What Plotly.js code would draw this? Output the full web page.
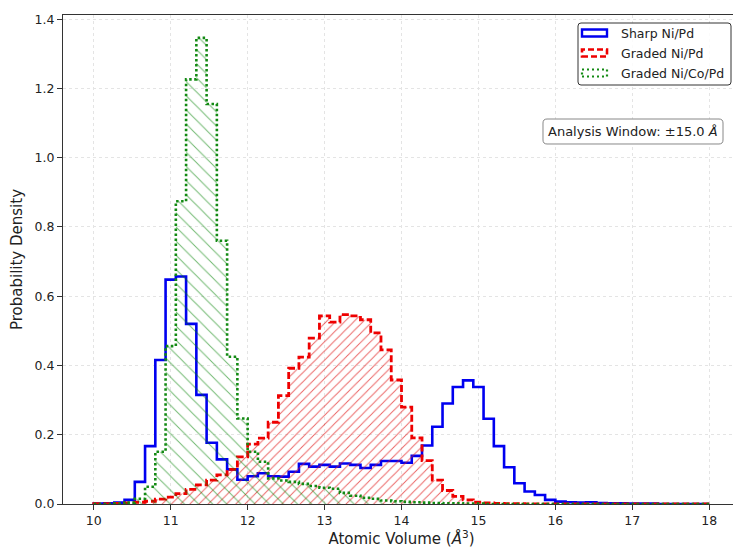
<!DOCTYPE html>
<html>
<head>
<meta charset="utf-8">
<script src="https://cdn.plot.ly/plotly-3.0.1.min.js"></script>
<style>
html,body{margin:0;padding:0;overflow:hidden;background:#fff;}
#chart{width:750px;height:550px;}
</style>
</head>
<body>
<div id="chart"></div>
<script>
// Histogram bins: 60 bins from 10 to 18
const binStart = 10;
const binEnd = 18;
const nBins = 60;

const sharpNiPd = [0.001,0.002,0.004,0.012,0.064,0.167,0.416,0.648,0.657,0.520,
  0.315,0.177,0.129,0.100,0.070,0.080,0.089,0.080,0.079,0.093,
  0.116,0.108,0.113,0.108,0.117,0.113,0.104,0.113,0.124,0.124,
  0.119,0.139,0.169,0.223,0.290,0.338,0.357,0.338,0.246,0.167,
  0.106,0.060,0.036,0.026,0.012,0.007,0.005,0.004,0.005,0.003,
  0.002,0.002,0.001,0.001,0.001,0,0,0,0,0];

const gradedNiPd = [0.001,0.001,0.002,0.003,0.005,0.008,0.014,0.020,0.030,0.042,
  0.055,0.069,0.084,0.100,0.136,0.173,0.190,0.236,0.313,0.392,
  0.424,0.479,0.543,0.525,0.547,0.543,0.532,0.494,0.445,0.358,
  0.280,0.191,0.125,0.069,0.039,0.022,0.012,0.005,0.003,0.002,
  0.001,0.001,0,0,0,0,0,0,0,0,
  0,0,0,0,0,0,0,0,0,0];

const gradedNiCoPd = [0,0,0.001,0.004,0.015,0.050,0.151,0.456,0.874,1.226,
  1.346,1.155,0.760,0.425,0.247,0.151,0.122,0.074,0.068,0.064,
  0.058,0.052,0.047,0.044,0.032,0.024,0.018,0.015,0.010,0.008,
  0.006,0.005,0.004,0.003,0.002,0.002,0.001,0.001,0,0,
  0,0,0,0,0,0,0,0,0,0,
  0,0,0,0,0,0,0,0,0,0];

const seriesNames = ["Sharp Ni/Pd", "Graded Ni/Pd", "Graded Ni/Co/Pd"];
const xTicks = [10,11,12,13,14,15,16,17,18];
const yTicks = [0,0.2,0.4,0.6,0.8,1.0,1.2,1.4];

const binW = (binEnd - binStart) / nBins;
const edges = [];
for (let i = 0; i <= nBins; i++) edges.push(binStart + i * binW);

function stepXY(vals) {
  const x = [binStart];
  const y = [0];
  for (let i = 0; i < vals.length; i++) { x.push(edges[i]); y.push(vals[i]); }
  x.push(binEnd); y.push(0);
  return {x, y};
}

const sB = stepXY(sharpNiPd), sR = stepXY(gradedNiPd), sG = stepXY(gradedNiCoPd);

const traces = [
  {x: sB.x, y: sB.y, type:'scatter', mode:'lines', name: seriesNames[0],
   line:{shape:'hv', color:'#0000f0', width:2.6}, hoverinfo:'skip'},
  {x: sR.x, y: sR.y, type:'scatter', mode:'lines', name: seriesNames[1],
   fill:'tozeroy', fillcolor:'rgba(0,0,0,0)',
   fillpattern:{shape:'/', fgcolor:'rgba(225,30,30,0.7)', bgcolor:'rgba(0,0,0,0)', size:6.5, solidity:0.15, fillmode:'replace'},
   line:{shape:'hv', color:'#ee0000', width:2.8, dash:'7px,3px'}, hoverinfo:'skip'},
  {x: sG.x, y: sG.y, type:'scatter', mode:'lines', name: seriesNames[2],
   fill:'tozeroy', fillcolor:'rgba(0,0,0,0)',
   fillpattern:{shape:'\\', fgcolor:'rgba(0,128,0,0.55)', bgcolor:'rgba(0,0,0,0)', size:10, solidity:0.1, fillmode:'replace'},
   line:{shape:'hv', color:'#138a13', width:2.6, dash:'2.5px,2.5px'}, hoverinfo:'skip'}
];

// plot area geometry helpers (paper coords)
const L = 63, R = 10, T = 15, B = 46, W = 750, H = 550;
const pw = W - L - R, ph = H - T - B;
const px = v => (v - L) / pw;
const py = v => (H - B - v) / ph;

function roundRect(x0, y0, x1, y1, r) {
  // pixel coords in, paper-coord path out
  const X = v => px(v).toFixed(5), Y = v => py(v).toFixed(5);
  return 'M' + X(x0 + r) + ',' + Y(y0) +
    ' L' + X(x1 - r) + ',' + Y(y0) +
    ' Q' + X(x1) + ',' + Y(y0) + ' ' + X(x1) + ',' + Y(y0 + r) +
    ' L' + X(x1) + ',' + Y(y1 - r) +
    ' Q' + X(x1) + ',' + Y(y1) + ' ' + X(x1 - r) + ',' + Y(y1) +
    ' L' + X(x0 + r) + ',' + Y(y1) +
    ' Q' + X(x0) + ',' + Y(y1) + ' ' + X(x0) + ',' + Y(y1 - r) +
    ' L' + X(x0) + ',' + Y(y0 + r) +
    ' Q' + X(x0) + ',' + Y(y0) + ' ' + X(x0 + r) + ',' + Y(y0) + ' Z';
}

const shapes = [
  // legend frame
  {type:'path', xref:'paper', yref:'paper', path: roundRect(578, 23, 731, 85, 3),
   line:{color:'#333', width:1}, fillcolor:'rgba(255,255,255,0.85)', layer:'above'},
  {type:'rect', xref:'paper', yref:'paper', x0:px(582), x1:px(607), y0:py(36.5), y1:py(29.5),
   line:{color:'#0000f0', width:2.4}, fillcolor:'rgba(0,0,0,0)', layer:'above'},
  {type:'rect', xref:'paper', yref:'paper', x0:px(582), x1:px(607), y0:py(56.5), y1:py(49.5),
   line:{color:'#ee0000', width:2.6, dash:'6px,3px'}, fillcolor:'rgba(0,0,0,0)', layer:'above'},
  {type:'rect', xref:'paper', yref:'paper', x0:px(582), x1:px(607), y0:py(76.5), y1:py(69.5),
   line:{color:'#138a13', width:2.2, dash:'2px,3px'}, fillcolor:'rgba(0,0,0,0)', layer:'above'},
  // annotation frame
  {type:'path', xref:'paper', yref:'paper', path: roundRect(543, 119, 723, 144, 4),
   line:{color:'#888', width:1}, fillcolor:'#ffffff', layer:'above'}
];

const font = "DejaVu Sans, sans-serif";
const annotations = [
  {xref:'paper', yref:'paper', x:px(619), y:py(33), xanchor:'left', yanchor:'middle', showarrow:false,
   text:seriesNames[0], font:{family:font, size:12.5, color:'#222'}},
  {xref:'paper', yref:'paper', x:px(619), y:py(53), xanchor:'left', yanchor:'middle', showarrow:false,
   text:seriesNames[1], font:{family:font, size:12.5, color:'#222'}},
  {xref:'paper', yref:'paper', x:px(619), y:py(73), xanchor:'left', yanchor:'middle', showarrow:false,
   text:seriesNames[2], font:{family:font, size:12.5, color:'#222'}},
  {xref:'paper', yref:'paper', x:px(633), y:py(131.5), xanchor:'center', yanchor:'middle', showarrow:false,
   text:'Analysis Window: \u00b115.0 <i>\u00c5</i>', font:{family:font, size:13, color:'#222'}}
];

const layout = {
  width: W, height: H,
  margin:{l:L, r:R, t:T, b:B},
  paper_bgcolor:'#ffffff', plot_bgcolor:'#ffffff',
  showlegend:false,
  font:{family:font, size:12.5, color:'#222'},
  xaxis:{range:[9.6, 18.4], tickvals:xTicks, ticktext:xTicks.map(String),
    ticks:'outside', ticklen:5, tickcolor:'#333', showline:true, linecolor:'#333', linewidth:1, mirror:true,
    showgrid:true, gridcolor:'#e4e4e4', griddash:'dot', gridwidth:1, zeroline:false,
    tickfont:{family:font, size:12.5, color:'#222'},
    title:{text:'Atomic Volume (<i>\u00c5</i><sup>3</sup>)', font:{family:font, size:15, color:'#222'}, standoff:6}},
  yaxis:{range:[0, 1.412], tickvals:yTicks, ticktext:yTicks.map(v=>v.toFixed(1)),
    ticks:'outside', ticklen:5, tickcolor:'#333', showline:true, linecolor:'#333', linewidth:1, mirror:true,
    showgrid:true, gridcolor:'#e4e4e4', griddash:'dot', gridwidth:1, zeroline:false,
    tickfont:{family:font, size:12.5, color:'#222'},
    title:{text:'Probability Density', font:{family:font, size:15, color:'#222'}, standoff:8}},
  shapes: shapes,
  annotations: annotations
};

Plotly.newPlot('chart', traces, layout, {staticPlot:true, displayModeBar:false});
</script>
</body>
</html>
